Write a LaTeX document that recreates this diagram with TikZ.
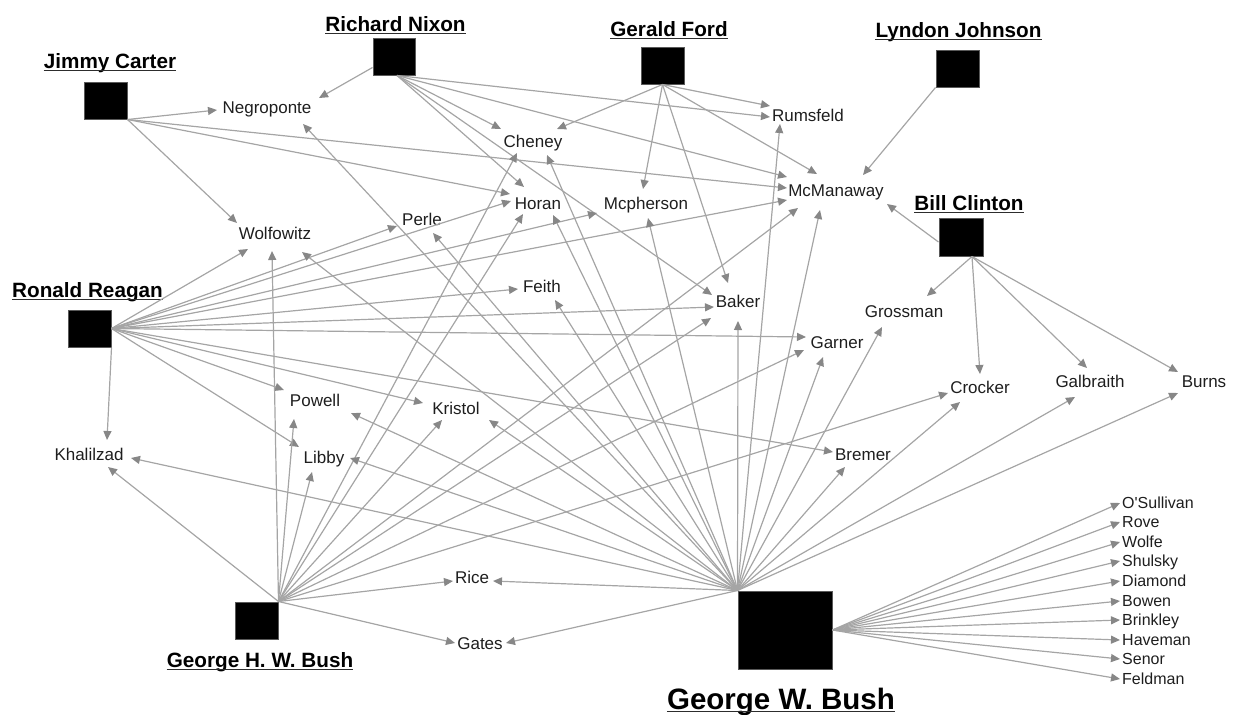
\documentclass[tikz,border=0pt]{standalone}
\usepackage{fontspec}
\setmainfont{Liberation Sans}
\usetikzlibrary{arrows.meta,calc}
\definecolor{edgec}{RGB}{165,165,165}
\definecolor{tipc}{RGB}{135,135,135}
\definecolor{txtc}{RGB}{30,30,30}
\definecolor{ulc}{RGB}{45,45,45}
\newcommand\myedge[4]{\draw[edge] (#1) -- ($(#2.base)+(#3,#4)$);}
\newcommand\mylist[1]{\draw[edge] (gwbR) -- ($(#1.base west)+(-2,-5)$);}
\newcommand\pulab[1]{\draw[uline] ($(#1.base west)+(0,2.6)$) -- ($(#1.base east)+(0,2.6)$);}
\begin{document}
\begin{tikzpicture}[x=1pt,y=-1pt,
  pres/.style={fill=black,draw=black!65,line width=1pt,minimum width=43pt,minimum height=37pt,inner sep=0pt},
  lab/.style={inner sep=0pt,anchor=base,text=txtc,font=\fontsize{17}{20}\selectfont},
  lst/.style={inner sep=0pt,anchor=base west,text=txtc,font=\fontsize{16}{19}\selectfont},
  plab/.style={inner sep=0pt,anchor=base,font=\bfseries\fontsize{20.7}{24}\selectfont},
  big/.style={plab,font=\bfseries\fontsize{29.5}{33}\selectfont},
  edge/.style={draw=edgec,line width=1.2pt,-{Triangle[length=9pt,width=8pt,color=tipc]}},
  uline/.style={draw=ulc,line width=1.6pt}]
\useasboundingbox (0,0) rectangle (1240,715);

% presidents
\node[pres] (carter) at (105.5,100.5) {};
\node[pres,minimum width=42pt] (nixon) at (394,56.5) {};
\node[pres] (ford) at (662.5,65.5) {};
\node[pres] (johnson) at (957.5,68.5) {};
\node[pres,minimum width=44pt,minimum height=38pt] (clinton) at (961,237) {};
\node[pres] (reagan) at (89.5,328.5) {};
\node[pres] (ghwb) at (256.5,620.5) {};
\node[pres,minimum width=94pt,minimum height=78pt] (gwb) at (785,630) {};

\node[plab] (lcarter) at (110,68) {Jimmy Carter}; \pulab{lcarter}
\node[plab] (lnixon) at (395.5,31) {Richard Nixon}; \pulab{lnixon}
\node[plab] (lford) at (669,36) {Gerald Ford}; \pulab{lford}
\node[plab] (ljohnson) at (958.5,37) {Lyndon Johnson}; \pulab{ljohnson}
\node[plab] (lclinton) at (969,210) {Bill Clinton}; \pulab{lclinton}
\node[plab] (lreagan) at (87.5,297) {Ronald Reagan}; \pulab{lreagan}
\node[plab] (lghwb) at (260,667) {George H. W. Bush}; \pulab{lghwb}
\node[big] (lgwb) at (781,709) {George W. Bush}; \pulab{lgwb}

% people
\node[lab] (neg) at (267,113) {Negroponte};
\node[lab] (wolf) at (275,239) {Wolfowitz};
\node[lab] (cheney) at (533,147) {Cheney};
\node[lab] (rums) at (808,121) {Rumsfeld};
\node[lab] (horan) at (538,209) {Horan};
\node[lab] (mcph) at (646,209) {Mcpherson};
\node[lab] (perle) at (422,225) {Perle};
\node[lab] (mcm) at (836,196) {McManaway};
\node[lab] (feith) at (542,292) {Feith};
\node[lab] (baker) at (738,307) {Baker};
\node[lab] (kristol) at (456,414) {Kristol};
\node[lab] (garner) at (837,348) {Garner};
\node[lab] (gross) at (904,317) {Grossman};
\node[lab] (crocker) at (980,393) {Crocker};
\node[lab] (galb) at (1090,387) {Galbraith};
\node[lab] (burns) at (1204,387) {Burns};
\node[lab] (bremer) at (863,460) {Bremer};
\node[lab] (powell) at (315,406) {Powell};
\node[lab] (khal) at (89,460) {Khalilzad};
\node[lab] (libby) at (324,463) {Libby};
\node[lab] (rice) at (472,583) {Rice};
\node[lab] (gates) at (480,649) {Gates};

\node[lst] (l1) at (1122,508) {O\textquotesingle Sullivan};
\node[lst] (l2) at (1122,527) {Rove};
\node[lst] (l3) at (1122,547) {Wolfe};
\node[lst] (l4) at (1122,566) {Shulsky};
\node[lst] (l5) at (1122,586) {Diamond};
\node[lst] (l6) at (1122,606) {Bowen};
\node[lst] (l7) at (1122,625) {Brinkley};
\node[lst] (l8) at (1122,645) {Haveman};
\node[lst] (l9) at (1122,664) {Senor};
\node[lst] (l10) at (1122,684) {Feldman};

% ports
\coordinate (carterP) at (carter.south east);
\coordinate (nixonL) at ($(nixon.south west)+(0,-8)$);
\coordinate (nixonP) at ($(nixon.south)+(3,0)$);
\coordinate (fordP) at (ford.south);
\coordinate (johnsonP) at (johnson.south west);
\coordinate (clintonL) at ($(clinton.west)+(0,5)$);
\coordinate (clintonP) at ($(clinton.south)+(11,0)$);
\coordinate (reaganP) at (reagan.east);
\coordinate (reaganK) at (reagan.south east);
\coordinate (ghwbP) at (ghwb.north east);
\coordinate (gwbP) at (gwb.north west);
\coordinate (gwbR) at (gwb.east);

% Carter
\myedge{carterP}{neg}{-50}{-3}
\myedge{carterP}{wolf}{-38}{-16}
\myedge{carterP}{horan}{-28}{-15}
\myedge{carterP}{mcm}{-49}{-8}
% Nixon
\myedge{nixonL}{neg}{52}{-15}
\myedge{nixonP}{cheney}{-32}{-18}
\myedge{nixonP}{horan}{-14}{-22}
\myedge{nixonP}{rums}{-38}{-4}
\myedge{nixonP}{mcm}{-49}{-19}
\myedge{nixonP}{baker}{-26}{-12}
% Ford
\myedge{fordP}{cheney}{24}{-18}
\myedge{fordP}{rums}{-38}{-15}
\myedge{fordP}{mcph}{-3}{-20}
\myedge{fordP}{baker}{-10}{-24}
\myedge{fordP}{mcm}{-19}{-22}
% Johnson
\myedge{johnsonP}{mcm}{27}{-21}
% Clinton
\myedge{clintonL}{mcm}{51}{8}
\myedge{clintonP}{gross}{23}{-21}
\myedge{clintonP}{crocker}{0}{-19}
\myedge{clintonP}{galb}{-3}{-19}
\myedge{clintonP}{burns}{-26}{-15}
% Reagan
\myedge{reaganK}{khal}{18}{-20}
\myedge{reaganP}{wolf}{-27}{10}
\myedge{reaganP}{perle}{-25}{1}
\myedge{reaganP}{horan}{-27}{-8}
\myedge{reaganP}{mcph}{-49}{4}
\myedge{reaganP}{mcm}{-49}{4}
\myedge{reaganP}{feith}{-24}{-3}
\myedge{reaganP}{baker}{-24}{0}
\myedge{reaganP}{garner}{-31}{-11}
\myedge{reaganP}{powell}{-31}{-16}
\myedge{reaganP}{kristol}{-33}{-11}
\myedge{reaganP}{libby}{-25}{-16}
\myedge{reaganP}{bremer}{-30}{-8}
% George H. W. Bush
\myedge{ghwbP}{khal}{19}{7}
\myedge{ghwbP}{wolf}{-3}{12}
\myedge{ghwbP}{powell}{-21}{13}
\myedge{ghwbP}{libby}{-12}{9}
\myedge{ghwbP}{kristol}{-14}{6}
\myedge{ghwbP}{cheney}{-16}{6}
\myedge{ghwbP}{horan}{-15}{5}
\myedge{ghwbP}{mcm}{-38}{12}
\myedge{ghwbP}{baker}{-27}{11}
\myedge{ghwbP}{garner}{-33}{2}
\myedge{ghwbP}{crocker}{-32}{0}
\myedge{ghwbP}{rice}{-19}{-2}
\myedge{ghwbP}{gates}{-25}{-6}
% George W. Bush
\myedge{gwbP}{neg}{36}{11}
\myedge{gwbP}{wolf}{27}{13}
\myedge{gwbP}{perle}{11}{8}
\myedge{gwbP}{cheney}{14}{8}
\myedge{gwbP}{horan}{15}{6}
\myedge{gwbP}{mcph}{2}{9}
\myedge{gwbP}{rums}{-28}{3}
\myedge{gwbP}{mcm}{-16}{14}
\myedge{gwbP}{feith}{13}{8}
\myedge{gwbP}{baker}{0}{14}
\myedge{gwbP}{garner}{-14}{9}
\myedge{gwbP}{gross}{-22}{10}
\myedge{gwbP}{crocker}{-20}{9}
\myedge{gwbP}{galb}{-15}{10}
\myedge{gwbP}{burns}{-26}{6}
\myedge{gwbP}{bremer}{-18}{7}
\myedge{gwbP}{kristol}{33}{6}
\myedge{gwbP}{powell}{36}{7}
\myedge{gwbP}{libby}{26}{-5}
\myedge{gwbP}{khal}{42}{-2}
\myedge{gwbP}{rice}{21}{-2}
\myedge{gwbP}{gates}{26}{-6}
\mylist{l1}\mylist{l2}\mylist{l3}\mylist{l4}\mylist{l5}\mylist{l6}\mylist{l7}\mylist{l8}\mylist{l9}\mylist{l10}
\end{tikzpicture}
\end{document}
